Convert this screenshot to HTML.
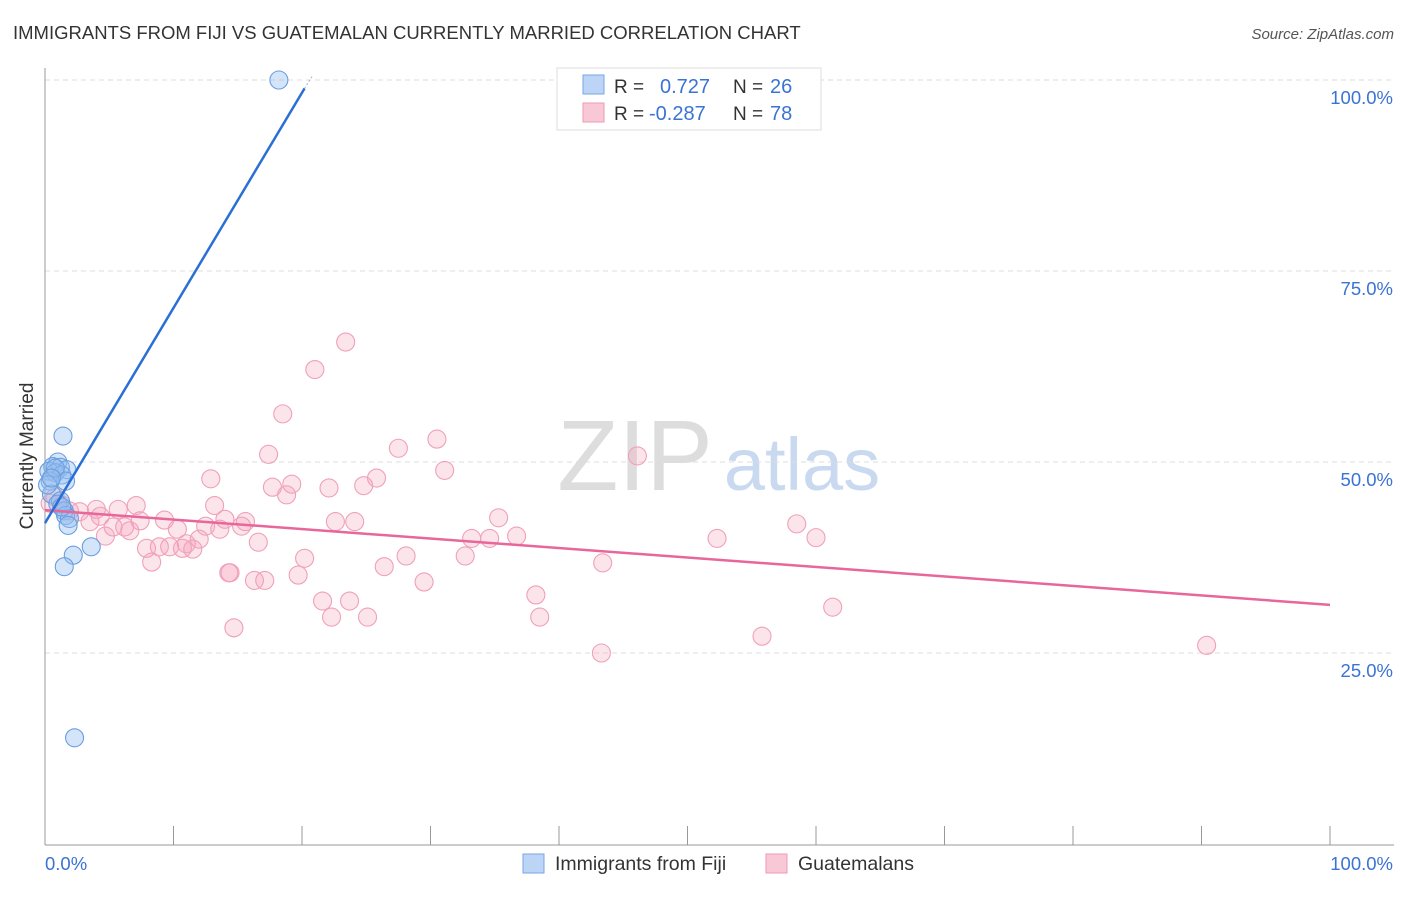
<!DOCTYPE html>
<html><head><meta charset="utf-8"><style>
body{margin:0;background:#fff;font-family:"Liberation Sans",sans-serif;}
svg text{font-family:"Liberation Sans",sans-serif;}
</style></head><body>
<svg id="chart" width="1406" height="892" xmlns="http://www.w3.org/2000/svg">
<text x="13" y="39" font-size="18.5" fill="#333">IMMIGRANTS FROM FIJI VS GUATEMALAN CURRENTLY MARRIED CORRELATION CHART</text>
<text x="1394" y="39" font-size="15" fill="#555" text-anchor="end" font-style="italic">Source: ZipAtlas.com</text>
<text transform="translate(33,456) rotate(-90)" font-size="19" fill="#333" text-anchor="middle">Currently Married</text>
<g>
<text x="635" y="490" font-size="100" fill="#ddd" text-anchor="middle" font-family="Liberation Serif">ZIP</text>
<text x="802" y="490" font-size="74" fill="#c9daf0" text-anchor="middle">atlas</text>
</g>
<g id="grid"></g><g id="axes"></g><g id="marks"></g>
<g>
<rect x="557" y="68" width="264" height="62" fill="#fff" stroke="#ddd"/>
<rect x="583" y="75" width="21" height="19" fill="#bcd4f5" stroke="#7aa6e6"/>
<rect x="583" y="103" width="21" height="19" fill="#f9c8d6" stroke="#ee9ab2"/>
<text x="614" y="93" font-size="19" fill="#333">R = </text><text x="660" y="93" font-size="20" fill="#3a73d4">0.727</text>
<text x="733" y="93" font-size="19" fill="#333">N = </text><text x="770" y="93" font-size="20" fill="#3a73d4">26</text>
<text x="614" y="120" font-size="19" fill="#333">R = </text><text x="649" y="120" font-size="20" fill="#3a73d4">-0.287</text>
<text x="733" y="120" font-size="19" fill="#333">N = </text><text x="770" y="120" font-size="20" fill="#3a73d4">78</text>
</g>
<g>
<rect x="523" y="854" width="21" height="19" fill="#bcd4f5" stroke="#7aa6e6"/>
<text x="555" y="870" font-size="19.5" fill="#333">Immigrants from Fiji</text>
<rect x="766" y="854" width="21" height="19" fill="#f9c8d6" stroke="#ee9ab2"/>
<text x="798" y="870" font-size="19.5" fill="#333">Guatemalans</text>
</g>
</svg>
<script>
const fijiX=[18.2,1.4,1.0,0.6,1.2,1.7,0.3,0.8,1.3,1.6,0.4,0.5,1.2,1.0,1.5,1.6,1.9,1.8,3.6,2.2,1.5,2.3,0.8,0.2,0.5,1.3];
const fijiY=[100,53.4,50,49.4,49.3,49,48.8,48.6,48.3,47.5,47.5,45.8,44.9,44.5,43.6,43,42.6,41.7,38.9,37.8,36.3,13.9,49.2,47,47.9,44.1];
const guaX=[0.4,0.8,1.3,1.9,2.7,3.5,4,4.3,4.7,5.3,5.7,6.2,6.6,7.1,7.4,7.9,8.3,8.9,9.3,9.7,10.3,10.7,11,11.5,12,12.5,12.9,13.2,13.6,14,14.3,14.7,15.3,15.6,16.3,16.6,17.1,17.4,17.7,18.5,18.8,19.2,19.7,20.2,21,21.6,22.1,22.3,22.6,23.4,23.7,24.1,24.8,25.1,25.8,26.4,27.5,28.1,29.5,30.5,31.1,32.7,33.2,34.6,35.3,36.7,38.2,38.5,43.3,43.4,46.1,52.3,55.8,58.5,60,61.3,90.4,14.4];
const guaY=[44.6,45.4,44.4,43.6,43.5,42.2,43.8,42.9,40.3,41.5,43.8,41.5,41,44.3,42.3,38.7,36.9,38.9,42.4,38.9,41.2,38.7,39.3,38.6,39.9,41.6,47.8,44.3,41.2,42.5,35.5,28.3,41.6,42.2,34.5,39.5,34.5,51,46.7,56.3,45.7,47.1,35.2,37.4,62.1,31.8,46.6,29.7,42.2,65.7,31.8,42.2,46.9,29.7,47.9,36.3,51.8,37.7,34.3,53,48.9,37.7,40,40,42.7,40.3,32.6,29.7,25,36.8,50.8,40,27.2,41.9,40.1,31,26,35.5];
const X=v=>45+v*12.85, Y=v=>844-v*7.64;
const NS='http://www.w3.org/2000/svg';
function mk(p,t,a){const e=document.createElementNS(NS,t);for(const k in a)e.setAttribute(k,a[k]);document.getElementById(p).appendChild(e);return e;}
const yTicks=[25,50,75,100], yTickLabels=['25.0%','50.0%','75.0%','100.0%'];
yTicks.forEach((t,i)=>{
 let l=mk('grid','line',{x1:45,x2:1394,y1:Y(t),y2:Y(t),stroke:'#ddd','stroke-dasharray':'5,4'});
 
 
 let tx=mk('axes','text',{x:1393,y:Y(t)+24,'font-size':18.5,fill:'#3a73d4','text-anchor':'end'});
 tx.textContent=yTickLabels[i];
 
 
});
let ax=mk('axes','line',{x1:45,x2:45,y1:68,y2:845,stroke:'#999'});


let bx=mk('axes','line',{x1:45,x2:1394,y1:845,y2:845,stroke:'#999'});


for(let i=1;i<=10;i++){let t=mk('axes','line',{x1:X(i*10),x2:X(i*10),y1:826,y2:845,stroke:'#999'});
 
 }
const xTickLabels=['0.0%','100.0%'];
[[45,'start'],[1393,'end']].forEach((p,i)=>{let t=mk('axes','text',{x:p[0],y:870,'font-size':18.5,fill:'#3a73d4','text-anchor':p[1]});t.textContent=xTickLabels[i];
 
 });
guaX.forEach((v,i)=>{let c=mk('marks','circle',{cx:X(v),cy:Y(guaY[i]),r:9,fill:'rgba(245,165,190,0.3)',stroke:'#f0a0b8','stroke-width':1.1});
 
 });
fijiX.forEach((v,i)=>{let c=mk('marks','circle',{cx:X(v),cy:Y(fijiY[i]),r:9,fill:'rgba(150,190,240,0.4)',stroke:'#6a9ee0','stroke-width':1.1});
 
 });
let pl=mk('marks','line',{x1:X(0),y1:Y(43.7),x2:X(100),y2:Y(31.3),stroke:'#e8679a','stroke-width':2.5});


let bl=mk('marks','line',{x1:X(0),y1:Y(42),x2:X(20.2),y2:Y(98.9),stroke:'#2a6fd6','stroke-width':2.5});


let bd=mk('marks','line',{x1:X(20.2),y1:Y(98.9),x2:X(20.8),y2:Y(100.5),stroke:'#9bb','stroke-width':1,'stroke-dasharray':'2,2'});


</script>
</body></html>
